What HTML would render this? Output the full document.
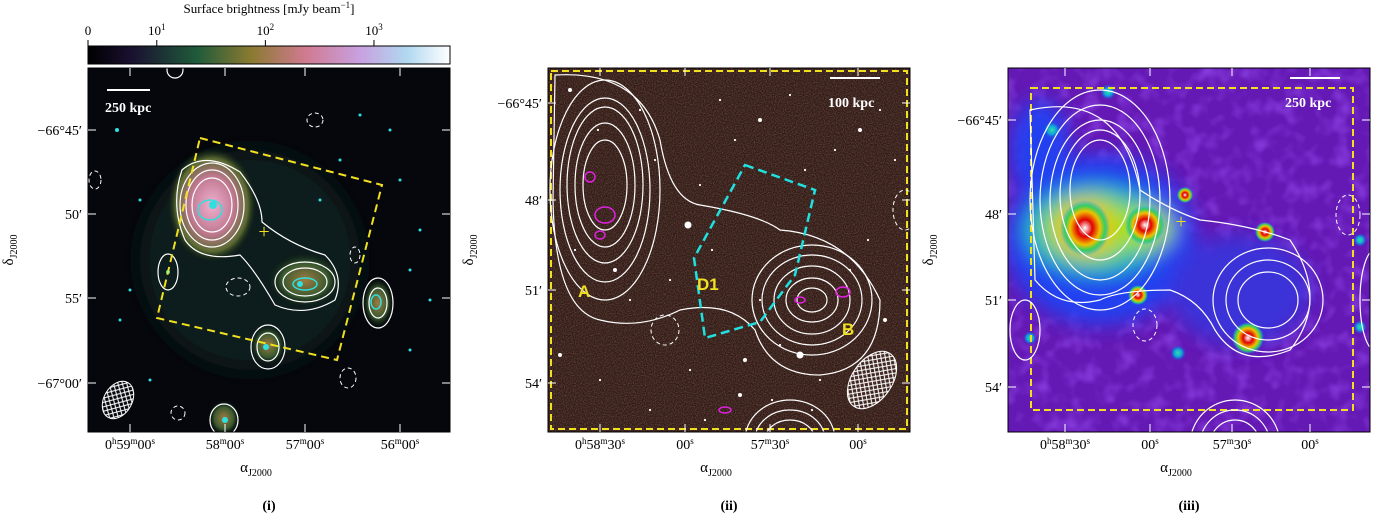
<!DOCTYPE html>
<html><head><meta charset="utf-8"><style>
body{margin:0;background:#fff;width:1373px;height:515px;overflow:hidden;font-family:"Liberation Serif",serif}
svg text{font-family:"Liberation Serif",serif;fill:#000}
</style></head><body>
<svg id="fig" width="1373" height="515" viewBox="0 0 1373 515" xmlns="http://www.w3.org/2000/svg">
<defs>
<linearGradient id="cbar" x1="0" x2="1" y1="0" y2="0">
<stop offset="0" stop-color="#000"/><stop offset="0.12" stop-color="#1a1030"/><stop offset="0.3" stop-color="#1f5a3a"/><stop offset="0.45" stop-color="#8a7a30"/><stop offset="0.6" stop-color="#d07a90"/><stop offset="0.75" stop-color="#c9a0e0"/><stop offset="0.88" stop-color="#b0d8f0"/><stop offset="1" stop-color="#fff"/></linearGradient>
<radialGradient id="blobA"><stop offset="0" stop-color="#f0b0d0"/><stop offset="0.5" stop-color="#c07890"/><stop offset="0.8" stop-color="#5a6a30"/><stop offset="1" stop-color="#0a1a10" stop-opacity="0"/></radialGradient>
<radialGradient id="blobB"><stop offset="0" stop-color="#a07a40"/><stop offset="0.6" stop-color="#3a5a30"/><stop offset="1" stop-color="#0a1a10" stop-opacity="0"/></radialGradient>
<radialGradient id="red"><stop offset="0" stop-color="#fff"/><stop offset="0.3" stop-color="#e00000"/><stop offset="0.6" stop-color="#f0c000"/><stop offset="0.8" stop-color="#30d060"/><stop offset="1" stop-color="#20a0ff" stop-opacity="0"/></radialGradient>
<radialGradient id="cyanblob"><stop offset="0" stop-color="#30e0a0"/><stop offset="0.5" stop-color="#10a0e0"/><stop offset="1" stop-color="#2040d0" stop-opacity="0"/></radialGradient>
<pattern id="hatch" width="6" height="6" patternUnits="userSpaceOnUse"><path d="M0 0L6 6M6 0L0 6" stroke="#fff" stroke-width="1"/></pattern>
<filter id="blur" x="-50%" y="-50%" width="200%" height="200%"><feGaussianBlur stdDeviation="10"/></filter>
<filter id="noise" x="0" y="0" width="100%" height="100%"><feTurbulence type="fractalNoise" baseFrequency="0.9" numOctaves="1" seed="3"/><feColorMatrix type="matrix" values="0 0 0 0 0.45  0 0 0 0 0.25  0 0 0 0 0.2  0 0 0 0.9 -0.35"/></filter>
<filter id="noise3" x="0" y="0" width="100%" height="100%"><feTurbulence type="fractalNoise" baseFrequency="0.06" numOctaves="2" seed="7"/><feColorMatrix type="matrix" values="0 0 0 0 0.25  0 0 0 0 0.05  0 0 0 0 0.75  0 0 0 2 -0.9"/></filter>
<clipPath id="c1"><rect x="88" y="68" width="362" height="364"/></clipPath>
<clipPath id="c2"><rect x="548" y="68" width="362" height="364"/></clipPath>
<clipPath id="c3"><rect x="1008" y="68" width="362" height="364"/></clipPath>
</defs>

<text x="269" y="13" font-size="13" text-anchor="middle">Surface brightness [mJy beam<tspan dy="-5" font-size="9">−1</tspan><tspan dy="5">]</tspan></text>
<rect x="88" y="46" width="362" height="18" fill="url(#cbar)" stroke="#000"/>
<g id="cbticks"></g>

<!-- panel i -->
<g clip-path="url(#c1)">
<rect x="88" y="68" width="362" height="364" fill="#05070c"/>
<ellipse cx="250" cy="260" rx="110" ry="110" fill="#0e1a1c" filter="url(#blur)"/>
<ellipse cx="212" cy="205" rx="45" ry="58" fill="url(#blobA)"/>
<ellipse cx="305" cy="280" rx="38" ry="28" fill="url(#blobB)"/>
<ellipse cx="268" cy="345" rx="18" ry="20" fill="url(#blobB)"/>
<ellipse cx="378" cy="303" rx="16" ry="25" fill="url(#blobB)"/>
<ellipse cx="224" cy="418" rx="16" ry="18" fill="url(#blobB)"/>
<g fill="none" stroke="#fff" stroke-width="1.2">
<path d="M182 170 Q205 150 240 172 Q262 200 262 222 Q290 245 325 255 Q345 275 335 300 Q305 318 275 305 Q255 270 240 255 Q200 262 185 240 Q170 205 182 170Z"/>
<ellipse cx="212" cy="205" rx="32" ry="42"/><ellipse cx="212" cy="205" rx="26" ry="35"/><ellipse cx="212" cy="205" rx="20" ry="27"/>
<ellipse cx="305" cy="282" rx="30" ry="20"/><ellipse cx="305" cy="282" rx="22" ry="14"/>
<ellipse cx="268" cy="347" rx="17" ry="22"/><ellipse cx="268" cy="347" rx="11" ry="14"/>
<ellipse cx="378" cy="303" rx="15" ry="25"/><ellipse cx="378" cy="303" rx="9" ry="15"/>
<ellipse cx="168" cy="272" rx="10" ry="18"/>
<ellipse cx="224" cy="420" rx="14" ry="16"/>
<ellipse cx="175" cy="70" rx="8" ry="8"/>
</g>
<g fill="none" stroke="#fff" stroke-dasharray="4,3" stroke-width="1">
<ellipse cx="315" cy="120" rx="8" ry="7"/><ellipse cx="238" cy="287" rx="12" ry="9"/><ellipse cx="348" cy="378" rx="8" ry="10"/><ellipse cx="178" cy="413" rx="7" ry="7"/><ellipse cx="355" cy="255" rx="5" ry="8"/><ellipse cx="95" cy="180" rx="6" ry="9"/>
</g>
<g fill="none" stroke="#2ee0e0" stroke-width="1.5"><ellipse cx="210" cy="210" rx="12" ry="10"/><ellipse cx="305" cy="284" rx="12" ry="6"/><ellipse cx="376" cy="302" rx="5" ry="7"/></g>
<g fill="#2ee0e0"><circle cx="213" cy="205" r="4"/><circle cx="300" cy="284" r="3"/><circle cx="266" cy="347" r="3"/><circle cx="225" cy="420" r="3"/><circle cx="168" cy="272" r="2"/><circle cx="117" cy="130" r="2"/><circle cx="360" cy="115" r="1.5"/><circle cx="400" cy="180" r="1.5"/><circle cx="420" cy="230" r="1.5"/><circle cx="130" cy="290" r="1.5"/><circle cx="410" cy="350" r="1.5"/><circle cx="150" cy="380" r="1.5"/><circle cx="320" cy="200" r="1.5"/><circle cx="390" cy="130" r="1.5"/><circle cx="140" cy="200" r="1.5"/><circle cx="430" cy="300" r="1.5"/><circle cx="340" cy="160" r="1.5"/><circle cx="120" cy="320" r="1.5"/><circle cx="410" cy="270" r="1.5"/></g>
<polygon points="200,138 382,185 337,360 157,318" fill="none" stroke="#f0e020" stroke-width="2" stroke-dasharray="8,5"/>
<text x="264" y="238" font-size="20" style="fill:#f0e020" text-anchor="middle">+</text>
<ellipse cx="118" cy="400" rx="14" ry="20" fill="url(#hatch)" stroke="#fff" transform="rotate(30 118 400)"/>
<line x1="107" y1="90" x2="150" y2="90" stroke="#fff" stroke-width="2"/>
<text x="105" y="112" font-size="14" font-weight="bold" style="fill:#fff">250 kpc</text>
</g>

<!-- panel ii -->
<g clip-path="url(#c2)">
<rect x="548" y="68" width="362" height="364" fill="#321c17"/>
<rect x="548" y="68" width="362" height="364" filter="url(#noise)"/>
<g id="stars"></g>
<rect x="551" y="71" width="356" height="358" fill="none" stroke="#f0e020" stroke-width="2" stroke-dasharray="7,4"/>
<g fill="none" stroke="#fff" stroke-width="1.2">
<path d="M555 75 Q640 70 660 140 Q670 200 700 205 Q760 215 780 230 Q850 235 880 300 Q880 370 820 375 Q770 375 755 330 Q730 300 680 310 Q640 330 600 320 Q555 310 553 200Z"/>
<ellipse cx="605" cy="190" rx="55" ry="110"/><ellipse cx="605" cy="190" rx="45" ry="92"/><ellipse cx="605" cy="185" rx="38" ry="78"/><ellipse cx="605" cy="185" rx="30" ry="62"/><ellipse cx="605" cy="185" rx="22" ry="45"/>
<ellipse cx="812" cy="300" rx="60" ry="55"/><ellipse cx="812" cy="300" rx="50" ry="45"/><ellipse cx="812" cy="300" rx="38" ry="34"/><ellipse cx="812" cy="300" rx="26" ry="22"/><ellipse cx="812" cy="300" rx="15" ry="12"/>
<ellipse cx="790" cy="440" rx="45" ry="40"/><ellipse cx="790" cy="440" rx="35" ry="30"/><ellipse cx="790" cy="440" rx="25" ry="20"/>
</g>
<g fill="none" stroke="#fff" stroke-dasharray="4,3"><ellipse cx="665" cy="330" rx="14" ry="15"/><ellipse cx="905" cy="210" rx="12" ry="20"/></g>
<g fill="none" stroke="#e020e0" stroke-width="1.5"><ellipse cx="605" cy="215" rx="10" ry="8"/><ellipse cx="600" cy="235" rx="5" ry="4"/><ellipse cx="843" cy="292" rx="7" ry="5"/><ellipse cx="800" cy="300" rx="5" ry="3"/><ellipse cx="590" cy="177" rx="5" ry="5"/><ellipse cx="725" cy="410" rx="6" ry="3"/></g>
<polygon points="745,165 815,190 795,275 760,322 705,338 694,258" fill="none" stroke="#20e0e0" stroke-width="2.5" stroke-dasharray="9,5"/>
<ellipse cx="872" cy="380" rx="20" ry="32" fill="url(#hatch)" stroke="#fff" transform="rotate(35 872 380)"/>
<line x1="830" y1="78" x2="880" y2="78" stroke="#fff" stroke-width="2"/>
<text x="828" y="107" font-size="14" font-weight="bold" style="fill:#fff">100 kpc</text>
<text x="578" y="297" font-size="17" font-weight="bold" style="fill:#f0e020;font-family:'Liberation Sans',sans-serif">A</text>
<text x="697" y="290" font-size="17" font-weight="bold" style="fill:#f0e020;font-family:'Liberation Sans',sans-serif">D1</text>
<text x="842" y="335" font-size="17" font-weight="bold" style="fill:#f0e020;font-family:'Liberation Sans',sans-serif">B</text>
</g>

<!-- panel iii -->
<g clip-path="url(#c3)">
<rect x="1008" y="68" width="362" height="364" fill="#6418b4"/>
<rect x="1008" y="68" width="362" height="364" filter="url(#noise3)"/>
<g filter="url(#blur)">
<ellipse cx="1100" cy="240" rx="95" ry="85" fill="#2040f0"/>
<ellipse cx="1240" cy="290" rx="70" ry="55" fill="#3a30d8"/>
<ellipse cx="1040" cy="150" rx="30" ry="50" fill="#2040f0"/>
<ellipse cx="1095" cy="230" rx="70" ry="45" fill="#20c0b0"/>
<ellipse cx="1090" cy="228" rx="45" ry="32" fill="#a0e020"/>
<ellipse cx="1145" cy="228" rx="28" ry="22" fill="#a0e020"/>
<ellipse cx="1085" cy="228" rx="28" ry="26" fill="#f0c000"/>
</g>
<ellipse cx="1085" cy="228" rx="25" ry="28" fill="url(#red)"/>
<ellipse cx="1145" cy="225" rx="20" ry="20" fill="url(#red)"/>
<circle cx="1248" cy="338" r="16" fill="url(#red)"/>
<circle cx="1265" cy="232" r="10" fill="url(#red)"/>
<circle cx="1138" cy="295" r="10" fill="url(#red)"/>
<circle cx="1185" cy="195" r="8" fill="url(#red)"/>
<circle cx="1052" cy="130" r="9" fill="url(#cyanblob)"/><circle cx="1108" cy="92" r="8" fill="url(#cyanblob)"/><circle cx="1178" cy="353" r="8" fill="url(#cyanblob)"/><circle cx="1030" cy="338" r="7" fill="url(#cyanblob)"/><circle cx="1360" cy="240" r="7" fill="url(#cyanblob)"/><circle cx="1360" cy="327" r="7" fill="url(#cyanblob)"/>
<rect x="1031" y="88" width="322" height="322" fill="none" stroke="#f0e020" stroke-width="2" stroke-dasharray="7,4"/>
<g fill="none" stroke="#fff" stroke-width="1.2">
<path d="M1030 110 Q1120 90 1140 190 Q1170 210 1200 220 Q1250 225 1290 240 Q1330 300 1290 350 Q1240 370 1215 330 Q1200 300 1170 290 Q1120 290 1100 300 Q1060 310 1035 280Z"/>
<ellipse cx="1100" cy="200" rx="70" ry="110"/><ellipse cx="1100" cy="200" rx="60" ry="95"/><ellipse cx="1100" cy="200" rx="50" ry="80"/><ellipse cx="1100" cy="195" rx="40" ry="65"/><ellipse cx="1100" cy="190" rx="30" ry="50"/>
<ellipse cx="1268" cy="300" rx="55" ry="52"/><ellipse cx="1268" cy="300" rx="42" ry="40"/><ellipse cx="1268" cy="300" rx="30" ry="28"/>
<ellipse cx="1235" cy="445" rx="45" ry="45"/><ellipse cx="1235" cy="445" rx="35" ry="35"/><ellipse cx="1235" cy="445" rx="25" ry="25"/>
<ellipse cx="1025" cy="330" rx="15" ry="30"/><ellipse cx="1375" cy="300" rx="15" ry="50"/>
</g>
<g fill="none" stroke="#fff" stroke-dasharray="4,3"><ellipse cx="1145" cy="325" rx="12" ry="16"/><ellipse cx="1348" cy="215" rx="12" ry="20"/></g>
<text x="1181" y="228" font-size="20" style="fill:#f0e020" text-anchor="middle">+</text>
<line x1="1290" y1="78" x2="1340" y2="78" stroke="#fff" stroke-width="2"/>
<text x="1285" y="107" font-size="14" font-weight="bold" style="fill:#fff">250 kpc</text>
</g>

<g id="axes"></g>
</svg>
<script>
const ns='http://www.w3.org/2000/svg';
function mk(tag,attrs,parent,txt){const e=document.createElementNS(ns,tag);for(const k in attrs)e.setAttribute(k,attrs[k]);if(txt!==undefined)e.innerHTML=txt;parent.appendChild(e);return e;}
const cbLabels=['0','10<tspan dy="-5" font-size="9">1</tspan>','10<tspan dy="-5" font-size="9">2</tspan>','10<tspan dy="-5" font-size="9">3</tspan>'];
const cbPos=[0,0.19,0.49,0.79];
const cbg=document.getElementById('cbticks');
cbPos.forEach((p,i)=>{const x=88+p*362;
 const t=mk('text',{x:x,y:35,'font-size':13,'text-anchor':'middle'},cbg,cbLabels[i]);
 
 
 mk('line',{x1:x,y1:46,x2:x,y2:40,stroke:'#000'},cbg);});
const starsX=[570,598,640,655,688,700,720,735,760,790,805,835,860,880,895,575,615,630,670,712,745,772,820,850,885,600,650,705,740,780,812,868,560,690,760];
const starsY=[90,130,110,160,225,185,100,140,120,95,170,150,130,110,160,250,270,300,280,250,360,400,380,270,320,380,410,420,395,345,410,240,355,370,300];
const sg=document.getElementById('stars');
starsX.forEach((x,i)=>{mk('circle',{cx:x,cy:starsY[i],r:(i%4===0?2:1.1),fill:'#fff'},sg);});
mk('circle',{cx:688,cy:225,r:3.5,fill:'#fff'},sg);mk('circle',{cx:800,cy:355,r:3.5,fill:'#fff'},sg);
// label built from [base, superscript] pairs
function ra(parts){return parts.map((p,i)=>`<tspan dy="${i?5:0}">${p[0]}</tspan><tspan dy="-5" font-size="9">${p[1]}</tspan>`).join('');}
const panels=[
 {x0:88,yl:[130,214,298,383],ylab:['−66°45′','50′','55′','−67°00′'],xl:[130,225,305,400],xlab:[[['0','h'],['59','m'],['00','s']],[['58','m'],['00','s']],[['57','m'],['00','s']],[['56','m'],['00','s']]],name:'(i)'},
 {x0:548,yl:[103,200,290,383],ylab:['−66°45′','48′','51′','54′'],xl:[600,685,770,858],xlab:[[['0','h'],['58','m'],['30','s']],[['00','s']],[['57','m'],['30','s']],[['00','s']]],name:'(ii)'},
 {x0:1008,yl:[120,214,300,387],ylab:['−66°45′','48′','51′','54′'],xl:[1065,1150,1232,1310],xlab:[[['0','h'],['58','m'],['30','s']],[['00','s']],[['57','m'],['30','s']],[['00','s']]],name:'(iii)'}];
const ax=document.getElementById('axes');
panels.forEach(p=>{
 mk('rect',{x:p.x0,y:68,width:362,height:364,fill:'none',stroke:'#000'},ax);
 p.yl.forEach((y,i)=>{const t=mk('text',{x:p.x0-6,y:y+5,'font-size':14,'text-anchor':'end'},ax,p.ylab[i]);
  
  
  mk('line',{x1:p.x0,y1:y,x2:p.x0+8,y2:y,stroke:'#fff'},ax);mk('line',{x1:p.x0+354,y1:y,x2:p.x0+362,y2:y,stroke:'#fff'},ax);});
 p.xl.forEach((x,i)=>{const t=mk('text',{x:x,y:449,'font-size':14,'text-anchor':'middle'},ax,ra(p.xlab[i]));
  
  
  mk('line',{x1:x,y1:432,x2:x,y2:424,stroke:'#fff'},ax);mk('line',{x1:x,y1:68,x2:x,y2:76,stroke:'#fff'},ax);});
 const yt=mk('text',{x:0,y:0,'font-size':15,'text-anchor':'middle',transform:`translate(${p.x0-75},250) rotate(-90)`},ax,'δ<tspan dy="4" font-size="10">J2000</tspan>');
 
 
 const xt=mk('text',{x:p.x0+168,y:472,'font-size':15,'text-anchor':'middle'},ax,'α<tspan dy="4" font-size="10">J2000</tspan>');
 
 
 const pl=mk('text',{x:p.x0+181,y:510,'font-size':14,'font-weight':'bold','text-anchor':'middle'},ax,p.name);
 
 
});
</script>
</body></html>
